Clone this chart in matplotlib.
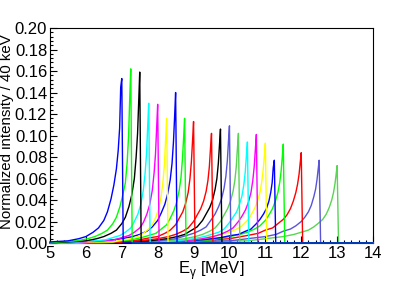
import numpy as np
import matplotlib
matplotlib.use("Agg")
import matplotlib.pyplot as plt
from matplotlib.ticker import MultipleLocator, FormatStrFormatter

plt.rcParams["font.family"] = ["Liberation Sans", "DejaVu Sans"]
plt.rcParams["mathtext.fontset"] = "custom"
plt.rcParams["mathtext.rm"] = "Liberation Sans"

# ROOT-like palette
BLUE, GREEN, BLACK = "#0000ff", "#00ff00", "#000000"
CYAN, MAGENTA, YELLOW, RED = "#00ffff", "#ff00ff", "#ffff00", "#ff0000"
SLATE, LGREEN = "#5954d8", "#59d454"

# peak energies (MeV) and colours of each spectrum
peak_energy = [7.00, 7.25, 7.50, 7.75, 8.00, 8.25, 8.50, 8.75, 9.00, 9.50, 9.75,
               10.00, 10.25, 10.50, 10.75, 11.00, 11.25, 11.50, 12.00, 12.50, 13.00]
colors = [BLUE, GREEN, BLACK, CYAN, MAGENTA, YELLOW, BLUE, GREEN, RED, RED, BLACK,
          SLATE, LGREEN, CYAN, MAGENTA, YELLOW, BLUE, GREEN, RED, SLATE, LGREEN]

# sample points below each peak (MeV relative to the peak)
offsets = [-2.5, -2.0, -1.5, -1.2, -1.0, -0.8, -0.65, -0.5, -0.4, -0.3, -0.22,
           -0.15, -0.1, -0.06, -0.03, 0.0]

# intensity read at those offsets, one list per spectrum
intensity = [
    [0.000, 0.001, 0.002, 0.004, 0.006, 0.010, 0.014, 0.021, 0.029, 0.041, 0.054, 0.069, 0.086, 0.107, 0.145, 0.153],
    [0.000, 0.001, 0.002, 0.004, 0.006, 0.009, 0.012, 0.018, 0.024, 0.034, 0.045, 0.056, 0.075, 0.100, 0.133, 0.162],
    [0.000, 0.001, 0.002, 0.004, 0.006, 0.009, 0.012, 0.018, 0.024, 0.034, 0.045, 0.060, 0.080, 0.102, 0.130, 0.159],
    [0.000, 0.001, 0.002, 0.003, 0.005, 0.007, 0.010, 0.014, 0.020, 0.027, 0.036, 0.049, 0.065, 0.083, 0.107, 0.130],
    [0.000, 0.001, 0.002, 0.003, 0.005, 0.007, 0.010, 0.014, 0.019, 0.027, 0.036, 0.049, 0.065, 0.083, 0.106, 0.129],
    [0.000, 0.001, 0.001, 0.003, 0.004, 0.006, 0.009, 0.013, 0.017, 0.024, 0.032, 0.044, 0.058, 0.074, 0.095, 0.116],
    [0.001, 0.002, 0.004, 0.006, 0.008, 0.011, 0.015, 0.021, 0.028, 0.036, 0.046, 0.059, 0.074, 0.094, 0.116, 0.140],
    [0.001, 0.001, 0.003, 0.005, 0.007, 0.009, 0.013, 0.017, 0.023, 0.030, 0.038, 0.049, 0.061, 0.078, 0.096, 0.116],
    [0.001, 0.001, 0.003, 0.005, 0.006, 0.009, 0.012, 0.017, 0.023, 0.029, 0.037, 0.047, 0.060, 0.076, 0.094, 0.113],
    [0.001, 0.002, 0.004, 0.006, 0.008, 0.011, 0.014, 0.020, 0.026, 0.032, 0.039, 0.048, 0.058, 0.071, 0.087, 0.102],
    [0.001, 0.002, 0.004, 0.006, 0.008, 0.012, 0.015, 0.021, 0.027, 0.033, 0.040, 0.050, 0.060, 0.074, 0.090, 0.106],
    [0.001, 0.002, 0.004, 0.007, 0.009, 0.012, 0.015, 0.022, 0.027, 0.034, 0.041, 0.051, 0.062, 0.076, 0.093, 0.109],
    [0.001, 0.002, 0.004, 0.006, 0.008, 0.011, 0.014, 0.020, 0.026, 0.032, 0.039, 0.048, 0.058, 0.071, 0.087, 0.102],
    [0.001, 0.002, 0.004, 0.006, 0.008, 0.010, 0.013, 0.019, 0.024, 0.029, 0.036, 0.044, 0.054, 0.066, 0.080, 0.094],
    [0.001, 0.002, 0.004, 0.006, 0.008, 0.011, 0.014, 0.020, 0.025, 0.031, 0.038, 0.047, 0.058, 0.071, 0.086, 0.101],
    [0.002, 0.003, 0.006, 0.008, 0.010, 0.013, 0.016, 0.021, 0.026, 0.032, 0.039, 0.047, 0.057, 0.068, 0.080, 0.093],
    [0.002, 0.003, 0.005, 0.007, 0.008, 0.011, 0.013, 0.018, 0.022, 0.027, 0.032, 0.039, 0.047, 0.056, 0.070, 0.077],
    [0.002, 0.003, 0.006, 0.008, 0.010, 0.013, 0.016, 0.021, 0.026, 0.032, 0.039, 0.047, 0.056, 0.067, 0.079, 0.092],
    [0.003, 0.004, 0.007, 0.009, 0.012, 0.014, 0.018, 0.022, 0.026, 0.032, 0.039, 0.047, 0.055, 0.064, 0.074, 0.084],
    [0.002, 0.004, 0.006, 0.008, 0.011, 0.013, 0.016, 0.020, 0.024, 0.029, 0.035, 0.043, 0.050, 0.059, 0.068, 0.077],
    [0.002, 0.004, 0.006, 0.008, 0.010, 0.012, 0.015, 0.019, 0.022, 0.027, 0.033, 0.040, 0.047, 0.055, 0.063, 0.072],
]

E_MIN, E_MAX = 5.0, 14.0
BIN = 0.04

fig = plt.figure(figsize=(4.15, 2.83), dpi=100)
ax = fig.add_axes([0.1205, 0.1413, 0.7783, 0.7597])

# draw the last spectrum first so the 7 MeV one ends up on top
for ep, col, vals in reversed(list(zip(peak_energy, colors, intensity))):
    x = np.array(offsets) + ep
    y = np.array(vals)
    keep = x >= E_MIN
    x, y = x[keep], y[keep]
    if x[0] > E_MIN:
        x = np.concatenate([[E_MIN], x])
        y = np.concatenate([[0.0], y])
    x = np.concatenate([x, [ep + BIN, E_MAX]])
    y = np.concatenate([y, [0.0, 0.0]])
    ax.plot(x, y, color=col, lw=1.0, zorder=3, clip_on=False)

ax.set_xlim(E_MIN, E_MAX)
ax.set_ylim(0, 0.2)
ax.xaxis.set_major_locator(MultipleLocator(1))
ax.xaxis.set_minor_locator(MultipleLocator(0.2))
ax.yaxis.set_major_locator(MultipleLocator(0.02))
ax.yaxis.set_minor_locator(MultipleLocator(0.004))
ax.yaxis.set_major_formatter(FormatStrFormatter("%.2f"))
ax.tick_params(which="both", direction="in", labelsize=12, width=0.8)
ax.tick_params(which="major", length=5, pad=2)
ax.tick_params(which="minor", length=2.5)
for s in ax.spines.values():
    s.set_linewidth(0.8)

ax.set_xlabel(r"E$_{\mathrm{\gamma}}$ [MeV]", fontsize=12, va="center")
ax.xaxis.set_label_coords(0.5, -0.13)
ax.set_ylabel("Normalized intensity / 40 keV", fontsize=10.8, va="center")
ax.yaxis.set_label_coords(-0.133, 0.52)

fig.savefig("out.png", dpi=100)
